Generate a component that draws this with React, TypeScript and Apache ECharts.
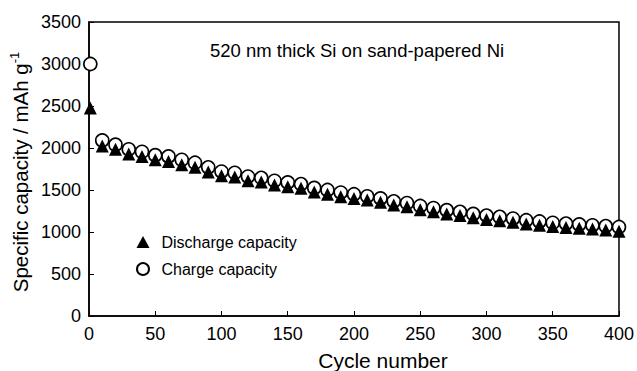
import React, { useEffect, useRef } from "react";
import * as echarts from "echarts";

const cycles = [1, 10, 20, 30, 40, 50, 60, 70, 80, 90, 100, 110, 120, 130, 140, 150, 160, 170, 180, 190, 200, 210, 220, 230, 240, 250, 260, 270, 280, 290, 300, 310, 320, 330, 340, 350, 360, 370, 380, 390, 400];
const chargeCapacity = [3000, 2090, 2040, 1985, 1955, 1915, 1900, 1860, 1825, 1770, 1720, 1705, 1660, 1645, 1610, 1590, 1570, 1525, 1500, 1470, 1450, 1425, 1400, 1365, 1345, 1310, 1285, 1260, 1240, 1215, 1195, 1180, 1160, 1140, 1125, 1110, 1100, 1090, 1080, 1070, 1060];
const dischargeCapacity = [2475, 2025, 1985, 1930, 1900, 1860, 1840, 1800, 1770, 1715, 1670, 1655, 1610, 1595, 1560, 1540, 1520, 1475, 1450, 1420, 1400, 1380, 1355, 1320, 1300, 1265, 1240, 1215, 1195, 1170, 1150, 1135, 1115, 1095, 1080, 1065, 1055, 1045, 1035, 1025, 1010];
const annotation = "520 nm thick Si on sand-papered Ni";
const xTitle = "Cycle number";
const yTitleMain = "Specific capacity / mAh g";
const yTitleSup = "-1";

const FONT = "'Liberation Sans', Arial, Helvetica, sans-serif";

export default function App() {
  const ref = useRef<HTMLDivElement>(null);
  useEffect(() => {
    if (!ref.current) return;
    const chart = echarts.init(ref.current, null, { renderer: "svg" });
    chart.setOption({
      animation: false,
      backgroundColor: "#ffffff",
      textStyle: { fontFamily: FONT },
      grid: {
        left: 89,
        right: 12,
        top: 22,
        bottom: 55,
        show: true,
        borderColor: "#000",
        borderWidth: 1.5,
      },
      xAxis: {
        type: "value",
        min: 0,
        max: 400,
        interval: 50,
        axisLine: { show: true, lineStyle: { color: "#000", width: 1.5 } },
        axisTick: { show: true, inside: true, length: 5, lineStyle: { color: "#000", width: 1 } },
        axisLabel: { color: "#000", fontSize: 18, margin: 9, fontFamily: FONT, formatter: (v: number) => String(v) },
        splitLine: { show: false },
      },
      yAxis: {
        type: "value",
        min: 0,
        max: 3500,
        interval: 500,
        axisLine: { show: true, lineStyle: { color: "#000", width: 1.5 } },
        axisTick: { show: true, inside: true, length: 5, lineStyle: { color: "#000", width: 1 } },
        axisLabel: { color: "#000", fontSize: 18, margin: 8, fontFamily: FONT, formatter: (v: number) => String(v) },
        splitLine: { show: false },
      },
      legend: {
        orient: "vertical",
        left: 131,
        top: 229,
        itemWidth: 13,
        itemHeight: 12,
        itemGap: 11,
        data: ["Discharge capacity", "Charge capacity"],
        textStyle: { color: "#000", fontSize: 16, fontFamily: FONT, padding: [0, 0, 0, 7] },
      },
      series: [
        {
          name: "Charge capacity",
          type: "scatter",
          symbol: "circle",
          symbolSize: 13,
          itemStyle: { color: "#fff", borderColor: "#000", borderWidth: 1.6, opacity: 1 },
          data: cycles.map((c, i) => [c, chargeCapacity[i]]),
          z: 2,
        },
        {
          name: "Discharge capacity",
          type: "scatter",
          symbol: "triangle",
          symbolSize: [13, 13],
          itemStyle: { color: "#000", opacity: 1 },
          data: cycles.map((c, i) => [c, dischargeCapacity[i]]),
          z: 3,
        },
      ],
      graphic: [
        {
          type: "text",
          left: 210,
          top: 41,
          style: { text: annotation, fontSize: 18.5, fill: "#000", fontFamily: FONT },
        },
        {
          type: "text",
          x: 383,
          y: 360,
          style: { text: xTitle, fontSize: 21, fill: "#000", fontFamily: FONT, textAlign: "center", textVerticalAlign: "middle" },
        },
        {
          type: "text",
          x: 20,
          y: 172,
          rotation: Math.PI / 2,
          style: {
            text: "{a|" + yTitleMain + "}{s|" + yTitleSup + "}",
            fill: "#000",
            fontFamily: FONT,
            textAlign: "center",
            textVerticalAlign: "middle",
            rich: {
              a: { fontSize: 20.5, fontFamily: FONT, fill: "#000", lineHeight: 24 },
              s: { fontSize: 13, fontFamily: FONT, fill: "#000", verticalAlign: "top", lineHeight: 14 },
            },
          },
        },
      ],
    });
    return () => chart.dispose();
  }, []);
  return <div ref={ref} style={{ position: "fixed", left: 0, top: 0, width: 637, height: 371 }} />;
}
